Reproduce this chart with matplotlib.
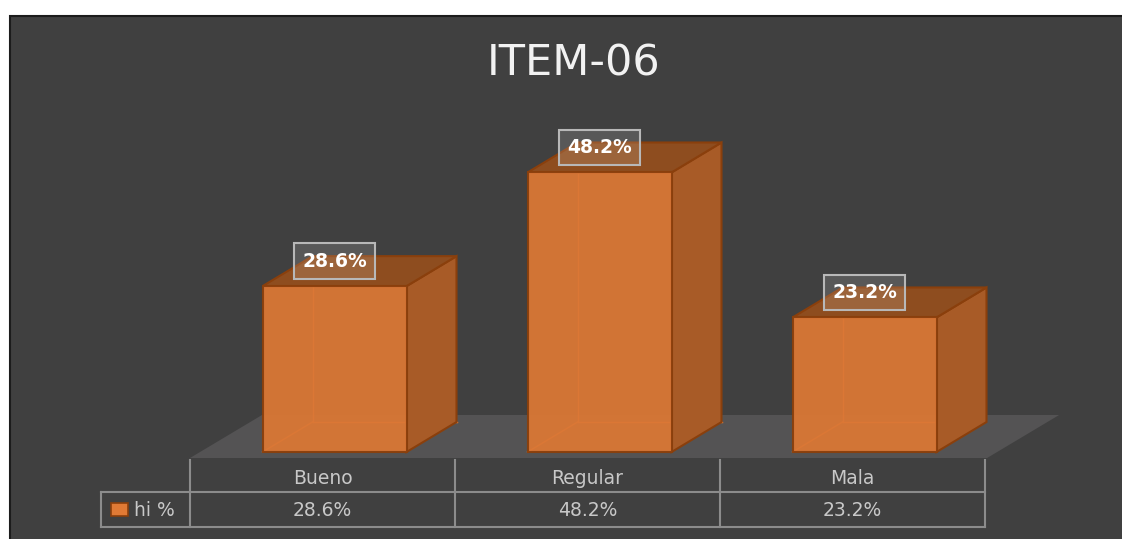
import matplotlib
matplotlib.use('Agg')
import matplotlib.pyplot as plt
from matplotlib.patches import Polygon, Rectangle
from matplotlib.transforms import blended_transform_factory

# datos
categories = ['Bueno', 'Regular', 'Mala']
values = [28.6, 48.2, 23.2]
value_labels = ['28.6%', '48.2%', '23.2%']
series_name = 'hi %'
title = 'ITEM-06'

W, H = 1122, 539
fig = plt.figure(figsize=(W / 100, H / 100), dpi=100)
fig.patch.set_facecolor('white')


def fx(px):
    return px / W


def fy(py):
    return 1 - py / H


# colores
panel_c = '#404040'
floor_c = '#545354'
front_c = '#da7735'
side_c = '#a85b27'
top_c = '#8e4d1f'
edge_c = '#8a3f0c'
grid_c = '#8c8c8c'
text_c = '#c8c8c8'

# fondo del panel (debajo de los ejes)
fig.patches.append(Rectangle((fx(10), -0.02), 1.05, fy(16) + 0.02,
                             transform=fig.transFigure, facecolor=panel_c,
                             edgecolor='#1c1c1c', lw=1.5, zorder=-5))

# ejes de las barras (x = categoria, y = porcentaje)
ax = fig.add_axes([fx(190), fy(458), fx(985) - fx(190), fy(100) - fy(458)])
ax.set_xlim(-0.5, 2.5)
ax.set_ylim(-1.03, 60.7)
ax.axis('off')
ax.patch.set_alpha(0)

px_x = 265.0   # pixeles por categoria
px_y = 5.8     # pixeles por punto porcentual
shift = 12 / px_x
bw = 144 / px_x
ddx = 50 / px_x
ddy = 30 / px_y

# piso
fdx, fdy = 72 / px_x, 43 / px_y
f0 = -1.03
ax.add_patch(Polygon([(-0.5, f0), (2.508, f0), (2.508 + fdx, f0 + fdy),
                      (-0.5 + fdx, f0 + fdy)], closed=True,
                     facecolor=floor_c, edgecolor='none', clip_on=False, zorder=1))

for i, v in enumerate(values):
    x0 = i + shift - bw / 2
    x1 = i + shift + bw / 2
    # lineas ocultas (se ven a traves de la cara frontal)
    ax.plot([x0 + ddx, x0 + ddx], [ddy, v + ddy], color='#ee8436', lw=1, zorder=2)
    ax.plot([x0 + ddx, x1 + ddx], [ddy, ddy], color='#ee8436', lw=1, zorder=2)
    ax.plot([x0, x0 + ddx], [0, ddy], color='#ee8436', lw=1, zorder=2)
    # cara lateral
    ax.add_patch(Polygon([(x1, 0), (x1 + ddx, ddy), (x1 + ddx, v + ddy), (x1, v)],
                         closed=True, facecolor=side_c, edgecolor=edge_c,
                         lw=1.5, zorder=3, clip_on=False))
    # cara superior
    ax.add_patch(Polygon([(x0, v), (x1, v), (x1 + ddx, v + ddy), (x0 + ddx, v + ddy)],
                         closed=True, facecolor=top_c, edgecolor=edge_c,
                         lw=1.5, zorder=3, clip_on=False))

ax.bar([i + shift for i in range(len(values))], values, width=bw,
       color=front_c, alpha=0.95, edgecolor=edge_c, lw=1.5, zorder=4)

for i, (v, lab) in enumerate(zip(values, value_labels)):
    ax.text(i + shift, v + 25 / px_y, lab, ha='center', va='center',
            color='white', fontsize=13.5, fontweight='bold', zorder=6,
            bbox=dict(boxstyle='square,pad=0.45', fc=(1, 1, 1, 0.13),
                      ec='#b8b8b8', lw=1.5))

# titulo
fig.text(fx(574), fy(63), title, ha='center', va='center',
         color='#f2f2f2', fontsize=31)

# tabla de datos
bt = blended_transform_factory(ax.transData, fig.transFigure)
for b in [-0.5, 0.5, 1.5, 2.5]:
    ax.plot([b, b], [fy(460), fy(527)], color=grid_c, lw=1.5,
            transform=bt, clip_on=False, zorder=5)
leg_left = (101 - 190) / px_x - 0.5
for yy in [492, 527]:
    ax.plot([leg_left, 2.5], [fy(yy), fy(yy)], color=grid_c, lw=1.5,
            transform=bt, clip_on=False, zorder=5)
ax.plot([leg_left, leg_left], [fy(492), fy(527)], color=grid_c, lw=1.5,
        transform=bt, clip_on=False, zorder=5)

for i, (cat, lab) in enumerate(zip(categories, value_labels)):
    ax.text(i, fy(479), cat, transform=bt, ha='center', va='center',
            color=text_c, fontsize=13.5)
    ax.text(i, fy(510), lab, transform=bt, ha='center', va='center',
            color=text_c, fontsize=13.5)

# leyenda de la tabla
fig.patches.append(Rectangle((fx(111), fy(516)), fx(17), fy(503) - fy(516),
                             transform=fig.transFigure, facecolor='#e07a35',
                             edgecolor=edge_c, lw=1.2, zorder=6))
fig.text(fx(134), fy(510), series_name, ha='left', va='center',
         color=text_c, fontsize=13.5)

plt.savefig('out.png', dpi=100)
plt.close()
